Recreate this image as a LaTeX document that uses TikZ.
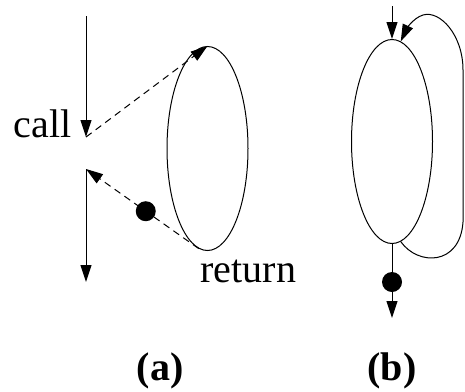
\documentclass[tikz,border=0pt]{standalone}
\usepackage{fontspec}
\setmainfont{Liberation Serif}
\usetikzlibrary{arrows.meta,shapes.geometric}

\begin{document}
\begin{tikzpicture}[x=1pt, y=-1pt, line width=1pt,
		proc/.style={draw, ellipse, minimum width=81pt, minimum height=204pt, inner sep=0pt},
		tip/.style={-{Triangle[length=17pt,width=11pt]}},
		token/.style={fill, circle, minimum size=20pt, inner sep=0pt},
		lbl/.style={font=\fontsize{40}{46}\selectfont, inner sep=0pt},
		caption/.style={font=\fontsize{40}{46}\selectfont\bfseries, inner sep=0pt},
		ret/.style={dash pattern=on 7pt off 5pt}]
			\useasboundingbox (0,0) rectangle (465,391);
			\coordinate (atop) at (86,16);
			\coordinate (callin) at (86,137);
			\coordinate (callout) at (86,169);
			\coordinate (abot) at (86,282);
			\node[proc] (pa) at (207.5,148.5) {};
			\draw[tip] (atop) -- (callin);
			\draw[tip] (callout) -- (abot);
			\draw[ret, tip] (callin) -- (pa.north);
			\draw[ret, tip] (pa.-95) -- node[token, pos=0.47] (da) {} (callout);
			\node[lbl, anchor=base east] (lcall) at (72,137) {call};
			\node[lbl, anchor=base west] (lret) at (200,282) {return};
			\coordinate (btop) at (392,6);
			\coordinate (bbot) at (392,318);
			\node[proc] (pb) at (392,141.5) {};
			\draw[tip] (btop) -- (pb.north);
			\draw[tip] (pb.south) -- (bbot);
			\node[token] (db) at (392,282) {};
			\draw[tip] (pb.-85) .. controls (418,266) and (460,266) .. (463,222) -- (463,70) .. controls (463,35) and (440,10) .. (423,15) .. controls (413,18) and (406,30) .. (pb.85);
			\node[caption, anchor=base] (capa) at (160,380) {(a)};
			\node[caption, anchor=base] (capb) at (392,380) {(b)};
		\end{tikzpicture}
\end{document}
